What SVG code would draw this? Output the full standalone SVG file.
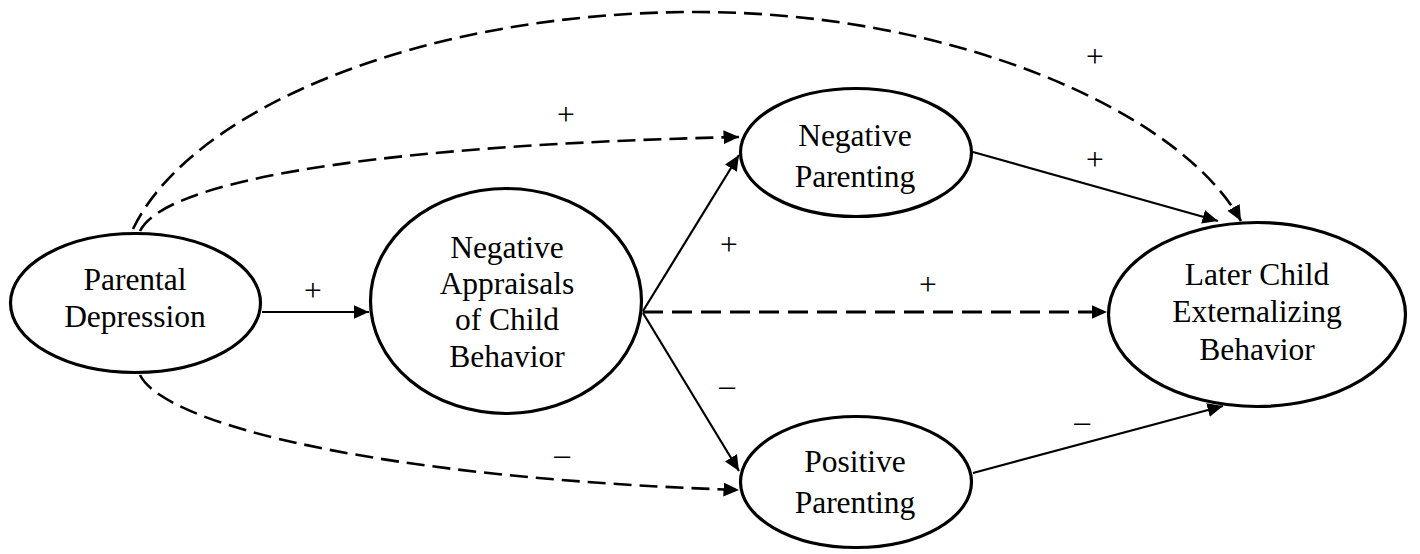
<svg xmlns="http://www.w3.org/2000/svg" width="1420" height="554" viewBox="0 0 1420 554">
<style>
.node{fill:#fff;stroke:#000;stroke-width:3.2}
.lbl{font-family:'Liberation Serif','Times New Roman',serif;font-size:31.5px;fill:#000;text-anchor:middle}
.solid{fill:none;stroke:#000;stroke-width:2.2;marker-end:url(#ah)}
.dash{fill:none;stroke:#000;stroke-width:2.6;stroke-dasharray:18 8;marker-end:url(#ah)}
.dash-thick{stroke-width:3;stroke-dasharray:20 9}
</style>
<defs>
<marker id="ah" markerUnits="userSpaceOnUse" markerWidth="17" markerHeight="15" refX="15.5" refY="7" orient="auto">
<path d="M0,0 L15.5,7 L0,14 z" fill="#000" stroke="none"/>
</marker>
</defs>
<rect width="1420" height="554" fill="#fff"/>
<g id="connectors">
<path class="solid" d="M262,312 L369,312"/>
<path class="solid" d="M643,311 L739,155"/>
<path class="solid" d="M643,313 L739,471"/>
<path class="dash dash-thick" d="M643,312 L1107,312"/>
<path class="solid" d="M973,152 L1218,221"/>
<path class="solid" d="M973,473 L1223,406"/>
<path class="dash" d="M140,231 C165,180 380,145 739,137"/>
<path class="dash" d="M133,229 C190,110 420,12 697,12 C950,12 1180,110 1241,221"/>
<path class="dash" d="M140,375 C165,425 380,478 739,490"/>
<text class="lbl" x="313" y="301">+</text>
<text class="lbl" x="729" y="255">+</text>
<text class="lbl" x="727" y="396">–</text>
<text class="lbl" x="928" y="295">+</text>
<text class="lbl" x="1095" y="170">+</text>
<text class="lbl" x="1082" y="432">–</text>
<text class="lbl" x="566" y="125">+</text>
<text class="lbl" x="1095" y="67">+</text>
<text class="lbl" x="562" y="465">–</text>
</g>
<g id="parental-depression">
<ellipse class="node" cx="135.5" cy="303" rx="125" ry="69.5"/>
<text class="lbl" x="135" y="290">Parental</text>
<text class="lbl" x="135" y="327">Depression</text>
</g>
<g id="negative-appraisals">
<ellipse class="node" cx="506" cy="301" rx="135.5" ry="112.5"/>
<text class="lbl" x="507" y="258">Negative</text>
<text class="lbl" x="507" y="294">Appraisals</text>
<text class="lbl" x="507" y="330">of Child</text>
<text class="lbl" x="507" y="367">Behavior</text>
</g>
<g id="negative-parenting">
<ellipse class="node" cx="856" cy="152.5" rx="115.5" ry="64"/>
<text class="lbl" x="855" y="146">Negative</text>
<text class="lbl" x="855" y="187">Parenting</text>
</g>
<g id="positive-parenting">
<ellipse class="node" cx="856" cy="482" rx="115.5" ry="65.5"/>
<text class="lbl" x="855" y="472">Positive</text>
<text class="lbl" x="855" y="513">Parenting</text>
</g>
<g id="later-child">
<ellipse class="node" cx="1257" cy="314.5" rx="148.5" ry="92"/>
<text class="lbl" x="1257" y="285">Later Child</text>
<text class="lbl" x="1257" y="322">Externalizing</text>
<text class="lbl" x="1257" y="360">Behavior</text>
</g>
</svg>
